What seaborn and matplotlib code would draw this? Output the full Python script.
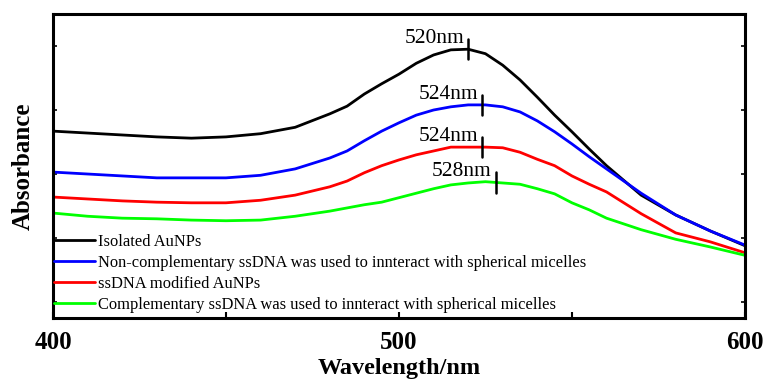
import matplotlib
matplotlib.use("Agg")
import matplotlib.pyplot as plt
import seaborn as sns
import pandas as pd
from matplotlib.ticker import MultipleLocator, NullFormatter

# ---- data ----
wavelength = [400, 410, 420, 430, 440, 450, 460, 470, 480, 485, 490, 495, 500, 505,
              510, 515, 520, 525, 530, 535, 540, 545, 550, 555, 560, 570, 580, 590, 600]

isolated = [0.367, 0.364, 0.361, 0.358, 0.356, 0.358, 0.363, 0.373, 0.394, 0.406, 0.425,
            0.441, 0.456, 0.473, 0.486, 0.494, 0.495, 0.488, 0.470, 0.447, 0.420, 0.392,
            0.366, 0.339, 0.313, 0.267, 0.236, 0.211, 0.188]
noncomp = [0.303, 0.300, 0.297, 0.294, 0.294, 0.294, 0.298, 0.308, 0.325, 0.336, 0.352,
           0.367, 0.380, 0.392, 0.400, 0.405, 0.408, 0.408, 0.405, 0.397, 0.383, 0.366,
           0.347, 0.327, 0.308, 0.270, 0.236, 0.211, 0.189]
ssdna = [0.264, 0.261, 0.258, 0.256, 0.255, 0.255, 0.259, 0.267, 0.280, 0.289, 0.302,
         0.313, 0.322, 0.330, 0.336, 0.342, 0.342, 0.342, 0.341, 0.334, 0.323, 0.313,
         0.297, 0.284, 0.272, 0.238, 0.208, 0.194, 0.177]
comp = [0.239, 0.234, 0.231, 0.230, 0.228, 0.227, 0.228, 0.234, 0.242, 0.247, 0.252,
        0.256, 0.263, 0.270, 0.277, 0.283, 0.286, 0.288, 0.286, 0.284, 0.277, 0.269,
        0.255, 0.244, 0.231, 0.213, 0.198, 0.186, 0.173]

series_names = ["Isolated AuNPs",
                "Non-complementary ssDNA was used to innteract with spherical micelles",
                "ssDNA modified AuNPs",
                "Complementary ssDNA was used to innteract with spherical micelles"]
series_colors = ["#000000", "#0000ff", "#ff0000", "#00ff00"]

peak_wavelengths = [520, 524, 524, 528]
peak_values = [0.495, 0.408, 0.342, 0.287]
peak_labels = ["520nm", "524nm", "524nm", "528nm"]

x_ticks = [400, 500, 600]
y_ticks = [0.1, 0.2, 0.3, 0.4, 0.5]

# ---- build long table ----
rows = []
for name, vals in zip(series_names, [isolated, noncomp, ssdna, comp]):
    for w, v in zip(wavelength, vals):
        rows.append({"Wavelength": w, "Absorbance": v, "Sample": name})
df = pd.DataFrame(rows)

sns.set_style("ticks", {"axes.edgecolor": "black", "xtick.color": "black",
                        "ytick.color": "black", "text.color": "black",
                        "axes.labelcolor": "black"})
plt.rcParams["font.family"] = ["Liberation Serif", "DejaVu Serif"]

fig = plt.figure(figsize=(7.64, 3.85), dpi=100)
ax = fig.add_axes([0.0694, 0.174, 0.9056, 0.7896])

sns.lineplot(data=df, x="Wavelength", y="Absorbance", hue="Sample",
             hue_order=series_names, palette=series_colors, linewidth=2.0,
             ax=ax, legend=True)

# peak markers and labels
half = 0.016
for w, v, lab in zip(peak_wavelengths, peak_values, peak_labels):
    ax.plot([w, w], [v - half, v + half], color="black", linewidth=1.8)
    ax.annotate(lab, xy=(w, v), xytext=(-3, 7.5), textcoords="offset points",
                ha="right", va="center", fontsize=15.5, color="black")

ax.set_xlim(400, 600)
ax.set_ylim(0.075, 0.55)
ax.set_xticks(x_ticks)
ax.xaxis.set_minor_locator(MultipleLocator(50))
ax.set_yticks(y_ticks)
ax.yaxis.set_major_formatter(NullFormatter())
ax.tick_params(axis="x", which="both", direction="in", length=4, width=1.5,
               labelsize=18, pad=9, colors="black")
ax.tick_params(axis="y", which="both", direction="in", length=3, width=1.2,
               left=True, right=True, colors="black")
for lbl in ax.get_xticklabels():
    lbl.set_fontweight("bold")

for sp in ax.spines.values():
    sp.set_visible(True)
    sp.set_linewidth(2.2)
    sp.set_color("black")

ax.set_xlabel("Wavelength/nm", fontsize=17.5, fontweight="bold", labelpad=3,
              color="black")
ax.set_ylabel("Absorbance", fontsize=18, fontweight="bold", labelpad=10,
              color="black")

leg = ax.legend(loc="lower left", bbox_to_anchor=(0.002, 0.018), frameon=False,
                fontsize=11.85, handlelength=2.45, handletextpad=0.2, labelspacing=0.29,
                borderpad=0, borderaxespad=0)
for h in leg.get_lines():
    h.set_linewidth(2.0)
for t in leg.get_texts():
    t.set_color("black")

fig.savefig("out.png", dpi=100)
